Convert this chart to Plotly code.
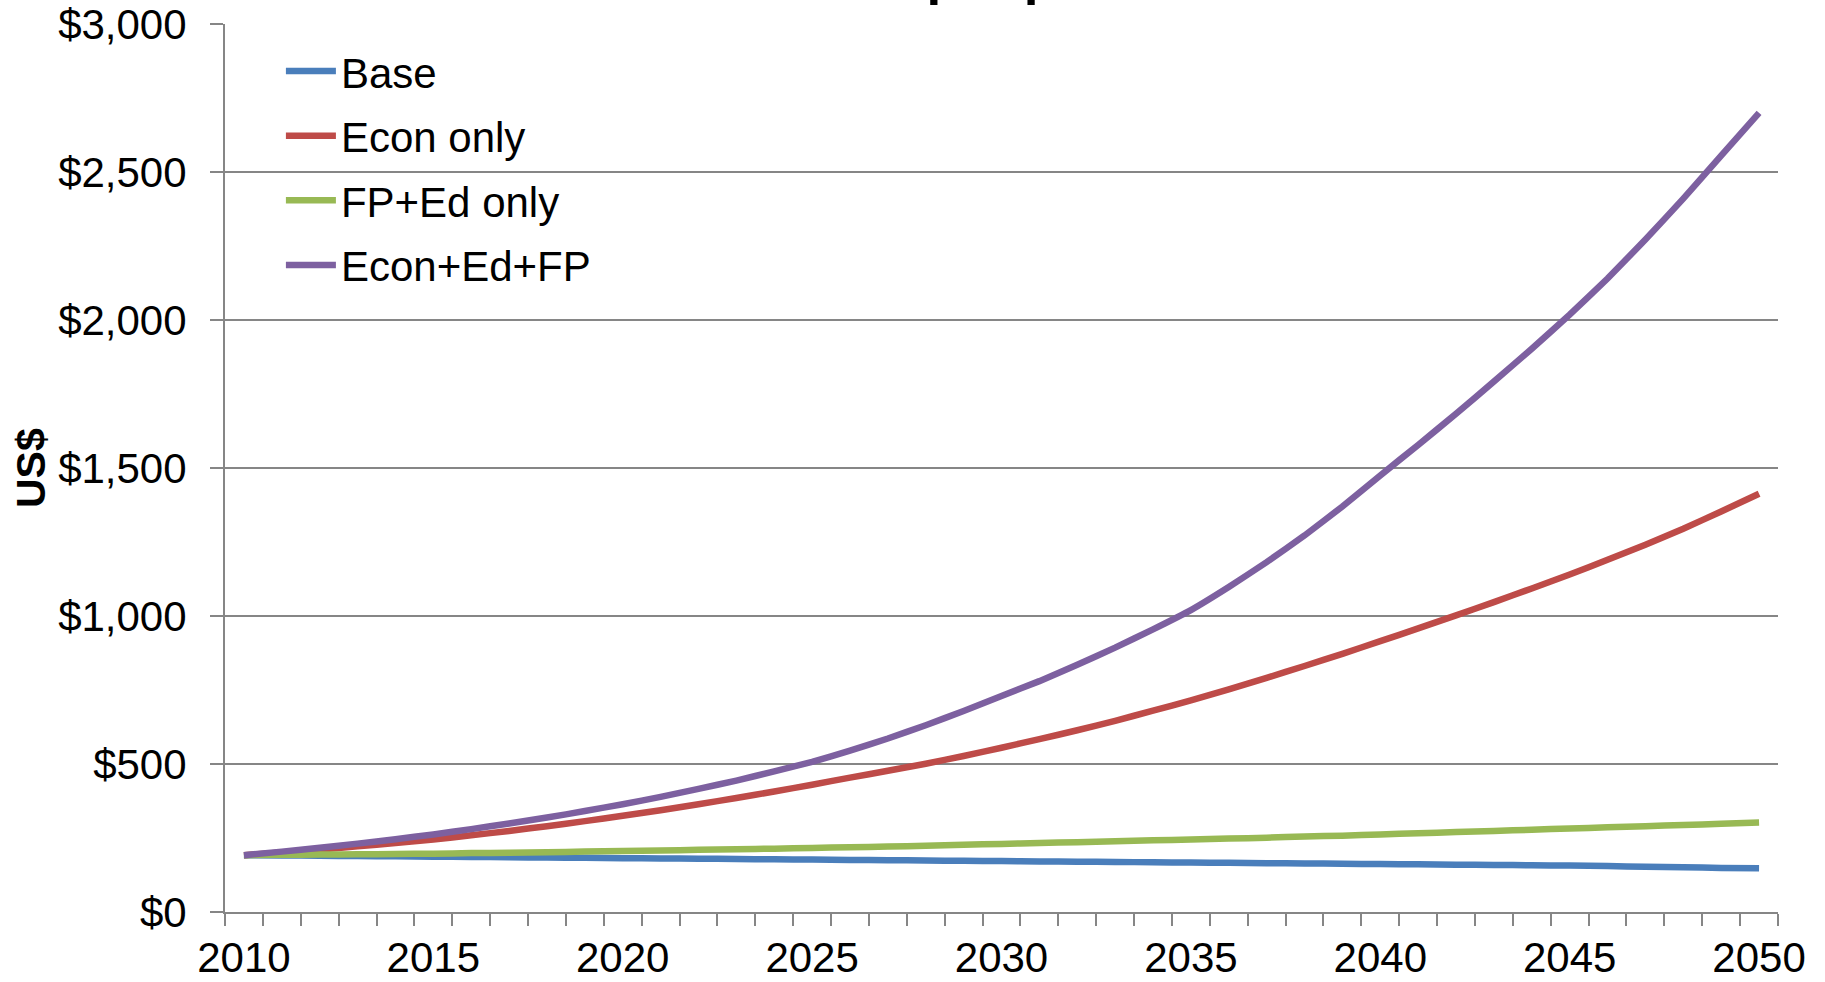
import plotly.graph_objects as go

years = list(range(2010, 2051))

base = [192, 191, 190, 189, 188, 187, 186, 185, 184, 183,
        182, 181, 180, 179, 178, 177, 176, 175, 174, 173,
        172, 171, 170, 169, 168, 167, 166, 165, 164, 163,
        162, 161, 160, 159, 158, 157, 155, 153, 151, 149, 148]

econ_only = [192, 201, 211, 222, 233, 245, 259, 274, 290, 307,
             325, 344, 364, 385, 407, 430, 454, 477, 501, 527,
             555, 584, 614, 646, 680, 715, 752, 791, 831, 872,
             915, 958, 1002, 1047, 1093, 1140, 1190, 1241, 1295, 1353, 1413]

fp_ed_only = [192, 193, 194, 195, 196, 197, 199, 200, 202, 204,
              206, 208, 210, 212, 214, 216, 219, 221, 224, 227,
              230, 233, 236, 239, 242, 245, 248, 251, 255, 258,
              262, 266, 270, 274, 278, 282, 286, 290, 294, 298, 302]

econ_ed_fp = [192, 204, 217, 231, 246, 262, 280, 299, 319, 341,
              364, 389, 416, 444, 475, 507, 545, 586, 631, 679,
              730, 780, 835, 893, 955, 1020, 1098, 1182, 1272, 1370,
              1475, 1578, 1683, 1792, 1903, 2018, 2140, 2272, 2410, 2555, 2700]

series_names = ["Base", "Econ only", "FP+Ed only", "Econ+Ed+FP"]
series_vals = [base, econ_only, fp_ed_only, econ_ed_fp]
colors = ["#4A7EBB", "#BE4B48", "#98B954", "#7D60A0"]

x_labels = [2010, 2015, 2020, 2025, 2030, 2035, 2040, 2045, 2050]
y_ticks = [0, 500, 1000, 1500, 2000, 2500, 3000]

FONT = "Liberation Sans, Arial, sans-serif"
GRAY = "#868686"

fig = go.Figure()
for i, (name, vals, col) in enumerate(zip(series_names, series_vals, colors)):
    fig.add_trace(go.Scatter(
        x=years, y=vals, name=name, mode="lines",
        line=dict(color=col, width=6.5, shape="spline", smoothing=0.3),
        legendgroup=f"g{i}",
    ))

fig.update_layout(
    width=1825, height=982,
    margin=dict(l=225, r=47, t=24, b=70, pad=0),
    paper_bgcolor="white", plot_bgcolor="white",
    font=dict(family=FONT, size=42, color="black"),
    showlegend=True,
    legend=dict(
        x=0.036, y=0.985, xanchor="left", yanchor="top",
        font=dict(family=FONT, size=42, color="black"),
        bgcolor="rgba(0,0,0,0)", itemwidth=50, tracegroupgap=7,
        traceorder="grouped",
    ),
)

fig.update_xaxes(
    range=[2009.5, 2050.5], automargin=False,
    tickmode="array", tickvals=x_labels, ticktext=[str(v) for v in x_labels],
    ticks="", ticklabelstandoff=8,
    showline=True, linecolor=GRAY, linewidth=2,
    showgrid=False, zeroline=False,
    tickfont=dict(family=FONT, size=42, color="black"),
    minor=dict(tickmode="linear", tick0=2009.5, dtick=1, ticks="outside",
               ticklen=12, tickcolor=GRAY, tickwidth=2, showgrid=False),
)

fig.update_yaxes(
    range=[0, 3000], automargin=False,
    tickmode="array", tickvals=y_ticks,
    ticktext=["${:,}".format(v) for v in y_ticks],
    ticks="outside", ticklen=13, tickcolor=GRAY, tickwidth=2,
    ticklabelstandoff=15,
    showline=True, linecolor=GRAY, linewidth=2,
    showgrid=True, gridcolor=GRAY, gridwidth=2,
    zeroline=False,
    tickfont=dict(family=FONT, size=42, color="black"),
)

fig.add_annotation(
    text="<b>US$</b>", textangle=-90,
    xref="paper", yref="paper", x=0, y=0.5,
    xanchor="center", yanchor="middle", xshift=-194,
    showarrow=False, font=dict(family=FONT, size=41, color="black"),
)

fig.add_annotation(
    text="<b>GDP per person</b>",
    xref="paper", yref="paper", x=0.499, y=1,
    xanchor="center", yanchor="bottom", yshift=17,
    showarrow=False, font=dict(family=FONT, size=53, color="black"),
)

fig.write_html("out.html")
